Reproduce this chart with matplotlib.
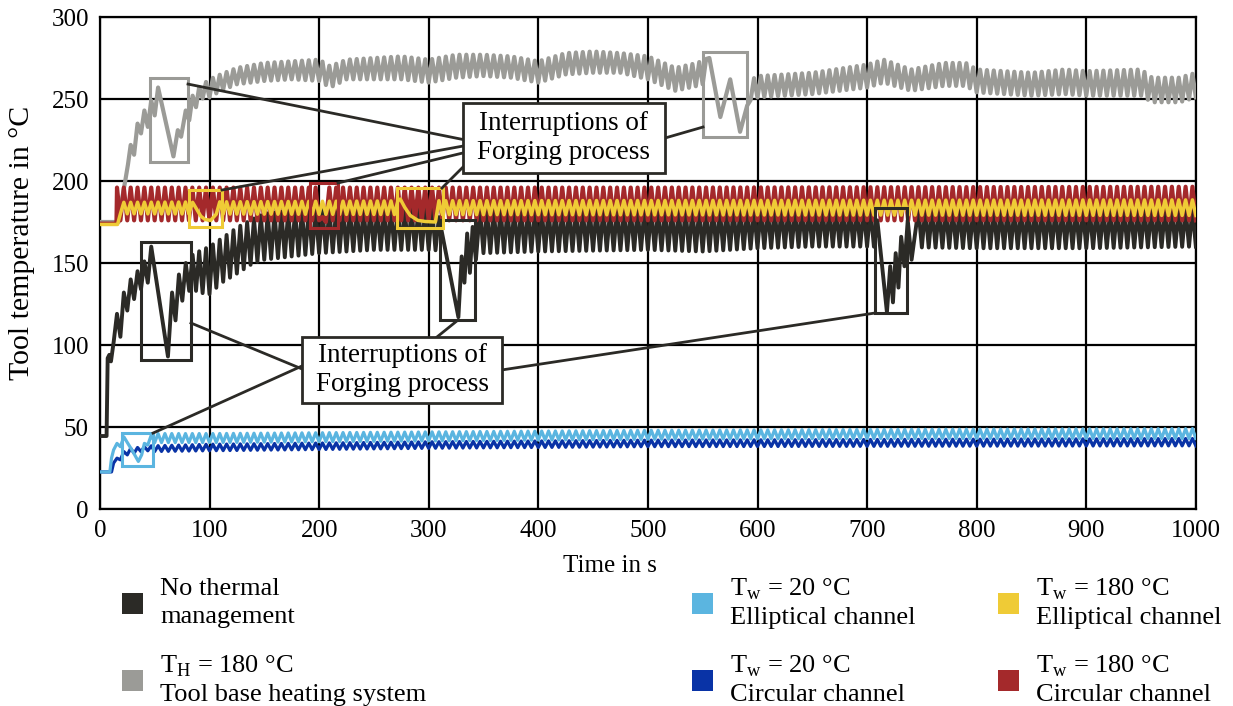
import numpy as np
import matplotlib
matplotlib.use("Agg")
import matplotlib.pyplot as plt
from matplotlib.patches import Rectangle

plt.rcParams['font.family'] = ['Liberation Serif', 'DejaVu Serif']
plt.rcParams['mathtext.fontset'] = 'custom'
plt.rcParams['mathtext.rm'] = 'Liberation Serif'

# ---------------- data ----------------
PERIOD = 6.25          # forging cycle, s
T_FIRST_PEAK = 15.5    # time of first stroke peak, s

# No thermal management (black)
black_pre = [(0, 44.5), (6, 44.5), (7, 92), (8.5, 94), (10, 90), (12.5, 102),
             (15.5, 119), (18.6, 105), (21.75, 132), (24.9, 121), (28, 140), (31.1, 128),
             (34.25, 145), (37.4, 134), (40.5, 151), (43.6, 138), (46.75, 160),
             (62, 93), (65.75, 132), (68.9, 115), (72, 143), (75.1, 127), (78.25, 150),
             (81.4, 133), (84.5, 155), (87.6, 133)]
black_env_t = [90, 100, 111, 126, 140, 150, 175, 200, 250, 300, 350, 400, 500, 550, 600, 650, 700, 800, 900, 1000]
black_env_hi = [157, 160, 165, 172, 177, 180, 182, 183, 183, 183, 183, 183, 183, 183, 183, 183, 183, 183, 183, 183]
black_env_lo = [132, 131, 138, 144, 150, 152, 154, 156, 158, 158, 156, 157, 158, 157, 159, 160, 160, 159, 159, 160]
black_gaps = [(308, 346, [(309.25, 178), (327, 117), (330, 154), (332.5, 138), (335, 168),
                          (337.5, 144), (340, 172), (343, 152)]),
              (708, 745, [(709.25, 176), (718, 120), (721, 148), (723.5, 126), (726, 156),
                          (728.5, 135), (731, 166), (734, 148), (737, 176), (740.5, 152)])]

# Tool base heating system (grey)
grey_pre = [(0, 175), (17, 175), (19, 185), (23, 200), (25.5, 210), (28, 222), (31.1, 216),
            (34.25, 235), (37.4, 229), (40.5, 243), (43.6, 233), (46.75, 249), (49.9, 240),
            (53, 257), (67, 215), (71, 231), (74, 227), (78.25, 243), (81.4, 237),
            (84.5, 252), (87.6, 245)]
grey_env_t = [90, 100, 110, 125, 150, 175, 200, 210, 225, 250, 275, 300, 325, 350, 375, 400,
              425, 450, 475, 500, 525, 545, 555, 595, 600, 650, 700, 715, 740, 770, 790, 800,
              850, 880, 900, 950, 960, 985, 1000]
grey_env_hi = [257, 262, 265, 269, 272, 273, 274, 270, 274, 275, 276, 274, 277, 277, 276, 273,
               278, 279, 278, 276, 269, 272, 275, 262, 264, 266, 271, 274, 268, 272, 272, 268,
               266, 268, 267, 268, 263, 263, 266]
grey_env_lo = [250, 251, 255, 259, 261, 262, 261, 257, 262, 262, 262, 260, 263, 264, 263, 260,
               265, 266, 266, 262, 255, 258, 260, 249, 251, 253, 257, 260, 255, 258, 258, 254,
               252, 253, 252, 252, 248, 248, 251]
grey_gaps = [(555, 593, [(556, 275), (566, 239), (575, 262), (584, 230), (590.5, 246)])]

# Tw = 180 °C circular channel (red)
red_pre = [(0, 174), (15, 174)]
red_env_t = [15, 500, 1000]
red_env_hi = [196, 196, 196.5]
red_env_lo = [176, 176, 176]
red_gaps = [(201, 207, [(203, 178), (206.1, 175)])]

# Tw = 180 °C elliptical channel (yellow)
yellow_pre = [(0, 173.5), (16, 173.5), (18.6, 180)]
yellow_env_t = [20, 300, 1000]
yellow_env_hi = [187, 188, 188.5]
yellow_env_lo = [180, 179.5, 179]
yellow_gaps = [(84, 103, [(84.5, 187), (88, 183), (92, 178.5), (96, 176.5), (101, 176)]),
               (273, 307.5, [(274, 189), (278, 184), (283, 179), (290, 176), (297, 175.3), (306, 175)])]

# Tw = 20 °C elliptical channel (light blue)
lblue_pre = [(0, 22.6), (9, 22.6), (10.5, 31), (12.4, 36), (15.5, 40), (18.6, 38),
             (21.75, 44), (30, 35), (35, 29), (38, 33), (40.5, 40), (43.6, 39),
             (46.75, 45), (49.9, 40.5)]
lblue_env_t = [53, 100, 200, 300, 500, 700, 1000]
lblue_env_hi = [46, 46, 46.5, 47, 48, 48.5, 49]
lblue_env_lo = [40.5, 40.5, 41, 41.5, 42.5, 43, 43]

# Tw = 20 °C circular channel (dark blue)
dblue_pre = [(0, 22.6), (10.5, 22.6), (12.4, 28), (15.5, 31), (18.6, 30), (21.75, 35),
             (24.9, 33), (28, 37), (31.1, 34), (34.25, 37.5), (37.4, 35), (40.5, 38), (43.6, 35.5)]
dblue_env_t = [46, 100, 300, 500, 1000]
dblue_env_hi = [38.5, 39.5, 41, 42, 43]
dblue_env_lo = [35, 35.5, 37, 38, 38.5]

x_ticks = [0, 100, 200, 300, 400, 500, 600, 700, 800, 900, 1000]
y_ticks = [0, 50, 100, 150, 200, 250, 300]

# annotation rectangles (t0, t1, v0, v1)
boxes_grey = [(45.6, 80.3, 211.6, 262.8), (550.2, 590.3, 226.8, 278.7)]
boxes_black = [(37.4, 83.0, 90.9, 162.8), (310.2, 342.2, 115.2, 176.2), (707.1, 736.3, 119.5, 183.5)]
boxes_red = [(191.6, 217.2, 171.3, 198.8)]
boxes_yellow = [(81.2, 111.3, 172.0, 194.5), (271.0, 313.0, 171.3, 195.7)]
boxes_lblue = [(20.1, 48.4, 26.2, 46.3)]

C_BLACK = '#2b2a26'
C_GREY = '#9b9b97'
C_RED = '#a4292b'
C_YELLOW = '#efcb36'
C_LBLUE = '#5bb5e0'
C_DBLUE = '#0933a6'


def build(pre, env_t, env_hi, env_lo, gaps=(), t_end=1000.0):
    t_last = pre[-1][0]
    k0 = int(np.ceil((t_last + 0.01 - T_FIRST_PEAK) / PERIOD))
    t_start = T_FIRST_PEAK + k0 * PERIOD
    ts = np.arange(t_start, t_end + 1e-9, PERIOD / 2)
    idx = np.arange(len(ts))
    vs = np.where(idx % 2 == 0, np.interp(ts, env_t, env_hi), np.interp(ts, env_t, env_lo))
    keep = np.ones(len(ts), bool)
    extra = []
    for g0, g1, pts in gaps:
        keep &= ~((ts >= g0) & (ts <= g1))
        extra += pts
    pts = list(pre) + list(zip(ts[keep], vs[keep])) + extra
    pts.sort(key=lambda p: p[0])
    a = np.array(pts)
    return a[:, 0], a[:, 1]


fig = plt.figure(figsize=(12.33, 7.06), dpi=100)
ax = fig.add_axes([100 / 1233, 1 - 509 / 706, 1096 / 1233, 492 / 706])

series = [
    (grey_pre, grey_env_t, grey_env_hi, grey_env_lo, grey_gaps, C_GREY, 3.0),
    (black_pre, black_env_t, black_env_hi, black_env_lo, black_gaps, C_BLACK, 2.8),
    (red_pre, red_env_t, red_env_hi, red_env_lo, red_gaps, C_RED, 3.0),
    (yellow_pre, yellow_env_t, yellow_env_hi, yellow_env_lo, yellow_gaps, C_YELLOW, 2.5),
    (dblue_pre, dblue_env_t, dblue_env_hi, dblue_env_lo, [], C_DBLUE, 2.3),
    (lblue_pre, lblue_env_t, lblue_env_hi, lblue_env_lo, [], C_LBLUE, 2.3),
]
for i, (pre, et, eh, el, gaps, col, lw) in enumerate(series):
    t, v = build(pre, et, eh, el, gaps)
    ax.plot(t, v, color=col, lw=lw, zorder=3 + i, solid_joinstyle='round')

ax.set_xlim(0, 1000)
ax.set_ylim(0, 300)
ax.set_xticks(x_ticks)
ax.set_yticks(y_ticks)
ax.grid(True, color='black', lw=1.6, zorder=1)
ax.set_axisbelow(True)
ax.tick_params(length=0, labelsize=18, pad=8)
for s in ax.spines.values():
    s.set_color('black')
    s.set_linewidth(1.6)

for boxes, col in [(boxes_grey, C_GREY), (boxes_black, C_BLACK), (boxes_red, C_RED),
                   (boxes_yellow, C_YELLOW), (boxes_lblue, C_LBLUE)]:
    for t0, t1, v0, v1 in boxes:
        ax.add_patch(Rectangle((t0, v0), t1 - t0, v1 - v0, fill=False, edgecolor=col,
                               lw=2.2, zorder=12))

# connector lines
conn_upper = [((80.3, 259.1), (331.2, 225.3)), ((111.3, 194.5), (331.2, 221.3)),
              ((217.2, 198.8), (331.2, 217.1)), ((312.0, 195.7), (331.2, 208.5)),
              ((515.5, 226.2), (550.2, 232.9))]
conn_lower = [((83.0, 113.4), (184.3, 85.4)), ((48.4, 46.3), (184.3, 87.2)),
              ((326.6, 115.2), (307.5, 104.9)), ((707.1, 119.5), (366.8, 84.8))]
for (a, b) in conn_upper + conn_lower:
    ax.plot([a[0], b[0]], [a[1], b[1]], color=C_BLACK, lw=2.0, zorder=13)

for (t0, t1, v0, v1) in [(331.2, 515.5, 204.9, 247.6), (184.3, 366.8, 64.6, 104.9)]:
    ax.add_patch(Rectangle((t0, v0), t1 - t0, v1 - v0, facecolor='white', edgecolor=C_BLACK,
                           lw=2.0, zorder=14))
    ax.text((t0 + t1) / 2, (v0 + v1) / 2, 'Interruptions of\nForging process', ha='center',
            va='center', fontsize=19.5, linespacing=1.25, zorder=15)

fig.text(610 / 1233, 1 - 566 / 706, 'Time in s', ha='center', va='center', fontsize=18)
fig.text(22 / 1233, 1 - 243 / 706, 'Tool temperature in °C', ha='center', va='center',
         rotation=90, fontsize=21.5)

# legend
legend_items = [
    (122, 593, C_BLACK, 'No thermal\nmanagement'),
    (122, 670, C_GREY, 'T$_\\mathrm{H}$ = 180 °C\nTool base heating system'),
    (692, 593, C_LBLUE, 'T$_\\mathrm{w}$ = 20 °C\nElliptical channel'),
    (692, 670, C_DBLUE, 'T$_\\mathrm{w}$ = 20 °C\nCircular channel'),
    (998, 593, C_YELLOW, 'T$_\\mathrm{w}$ = 180 °C\nElliptical channel'),
    (998, 670, C_RED, 'T$_\\mathrm{w}$ = 180 °C\nCircular channel'),
]
for px, py, col, label in legend_items:
    fig.patches.append(Rectangle((px / 1233, 1 - (py + 21) / 706), 21 / 1233, 21 / 706,
                                 transform=fig.transFigure, facecolor=col, edgecolor='none'))
    fig.text((px + 38) / 1233, 1 - (py + 10) / 706, label, ha='left', va='center',
             fontsize=19, linespacing=1.3)

fig.savefig('out.png', dpi=100)
